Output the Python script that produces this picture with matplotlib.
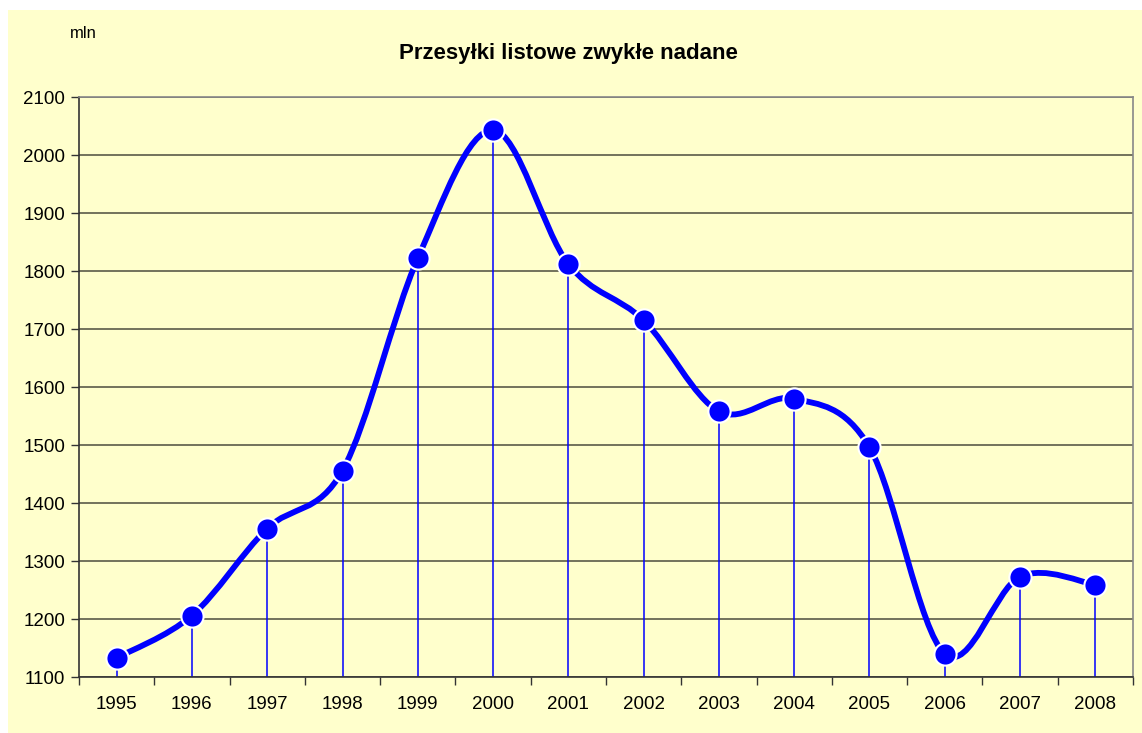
import numpy as np
import matplotlib
matplotlib.use("Agg")
import matplotlib.pyplot as plt
from matplotlib.path import Path
from matplotlib.patches import PathPatch, Rectangle

plt.rcParams["font.family"] = ["Liberation Sans", "DejaVu Sans"]

years = ["1995", "1996", "1997", "1998", "1999", "2000", "2001",
         "2002", "2003", "2004", "2005", "2006", "2007", "2008"]
values = [1133, 1206, 1356, 1456, 1822, 2043, 1812,
          1715, 1558, 1580, 1496, 1140, 1273, 1259]

BG = "#FFFFCC"
BLUE = "#0000FF"

W, H = 1142, 733
fig = plt.figure(figsize=(W / 100, H / 100), dpi=100, facecolor="white")
fig.patches.append(Rectangle((8 / W, 0), 1 - 8 / W, 1 - 10 / H,
                             transform=fig.transFigure, facecolor=BG,
                             edgecolor="none", zorder=-10))

ax = fig.add_axes([79 / W, 1 - 677 / H, (1133 - 79) / W, (677 - 97) / H])
ax.set_facecolor(BG)

x = np.arange(len(years))
y = np.array(values, dtype=float)

# smooth line (Excel-like bezier through the points)
verts = [(x[0], y[0])]
codes = [Path.MOVETO]
n = len(x)
for i in range(n - 1):
    p0 = np.array([x[max(i - 1, 0)], y[max(i - 1, 0)]])
    p1 = np.array([x[i], y[i]])
    p2 = np.array([x[i + 1], y[i + 1]])
    p3 = np.array([x[min(i + 2, n - 1)], y[min(i + 2, n - 1)]])
    c1 = p1 + (p2 - p0) / 6
    c2 = p2 - (p3 - p1) / 6
    verts += [tuple(c1), tuple(c2), tuple(p2)]
    codes += [Path.CURVE4] * 3
ax.add_patch(PathPatch(Path(verts, codes), facecolor="none", edgecolor=BLUE,
                       lw=4.2, zorder=3, capstyle="round", joinstyle="round"))

ax.vlines(x, 1100, y, color=BLUE, lw=1.1, zorder=2)
ax.plot(x, y, "o", color=BLUE, markersize=16, markeredgecolor="white",
        markeredgewidth=1.5, zorder=4, linestyle="none")

ax.set_xlim(-0.5, n - 0.5)
ax.set_ylim(1100, 2100)
ax.set_yticks(np.arange(1100, 2101, 100))
ax.yaxis.grid(True, color="#5a5a48", lw=1.2)
ax.set_axisbelow(True)
ax.set_xticks(x)
ax.set_xticklabels(years)
ax.set_xticks(np.arange(-0.5, n, 1), minor=True)
ax.tick_params(axis="x", which="major", length=0, pad=14, labelsize=13.5)
ax.tick_params(axis="x", which="minor", length=6, width=1, color="#333333")
ax.tick_params(axis="y", length=6, width=1, color="#333333", labelsize=13.5, pad=4)
for s in ["left", "bottom"]:
    ax.spines[s].set_color("#333333")
    ax.spines[s].set_linewidth(1.2)
for s in ["top", "right"]:
    ax.spines[s].set_color("#888888")
    ax.spines[s].set_linewidth(1.2)

fig.text(568 / W, 1 - 53 / H, "Przesyłki listowe zwykłe nadane", ha="center",
         va="center", fontsize=16, fontweight="bold")
fig.text(70 / W, 1 - 33 / H, "mln", ha="left", va="center", fontsize=12)

fig.savefig("out.png", dpi=100, facecolor=fig.get_facecolor())
